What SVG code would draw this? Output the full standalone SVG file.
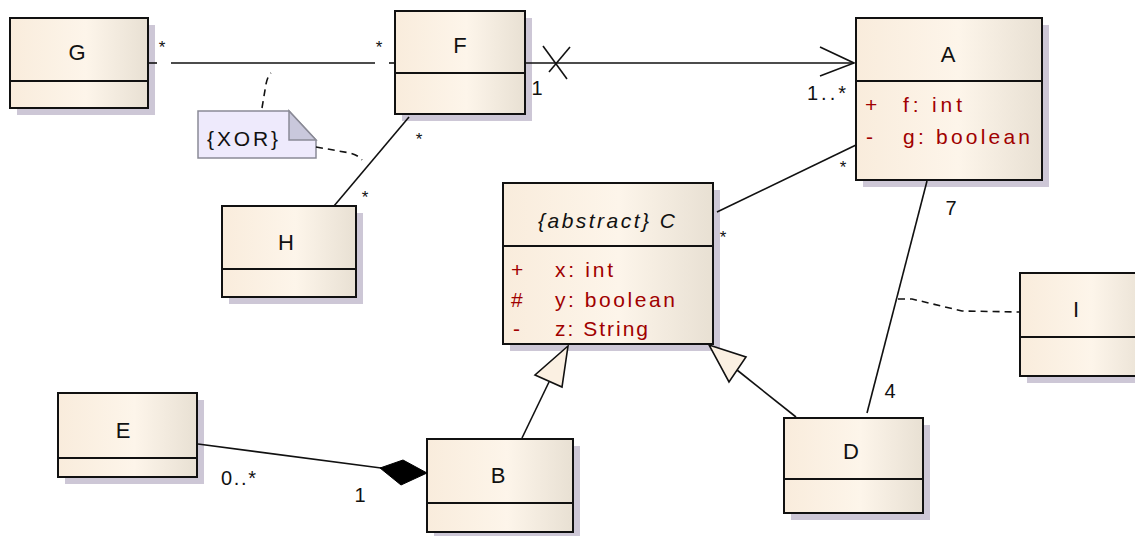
<svg xmlns="http://www.w3.org/2000/svg" width="1135" height="536" viewBox="0 0 1135 536">
<defs>
<linearGradient id="cls" x1="0" y1="0" x2="1" y2="0">
<stop offset="0" stop-color="#f9ecdc"/>
<stop offset="0.55" stop-color="#fdf5ea"/>
<stop offset="1" stop-color="#e8e0d3"/>
</linearGradient>
</defs>
<style>
.sh{fill:#cdc7d6}
.box{fill:url(#cls);stroke:#111;stroke-width:2}
.div{stroke:#111;stroke-width:2}
.t{font-family:"Liberation Sans",Arial,sans-serif;font-size:22px;fill:#111;text-anchor:middle}
.ti{font-family:"Liberation Sans",Arial,sans-serif;font-size:21px;font-style:italic;fill:#111}
.at{font-family:"Liberation Sans",Arial,sans-serif;font-size:21px;fill:#a00000}
.m{font-family:"Liberation Sans",Arial,sans-serif;font-size:20px;fill:#111}
.mc{font-family:"Liberation Sans",Arial,sans-serif;font-size:20px;fill:#111;text-anchor:middle}
.st{font-family:"Liberation Sans",Arial,sans-serif;font-size:17px;fill:#111;text-anchor:middle}
.ln{stroke:#111;stroke-width:1.6;fill:none}
.dash{stroke:#111;stroke-width:1.6;fill:none;stroke-dasharray:7 5}
.note{fill:#eeeafc;stroke:#8a8a96;stroke-width:1.5}
.fold{fill:#c9c8dc;stroke:#8a8a96;stroke-width:1.5}
.tri{fill:#fbf0e2;stroke:#111;stroke-width:1.6}
</style>

<g id="note-xor">
  <polygon class="note" points="198,111 289,111 316,140 316,158 198,158"/>
  <polygon class="fold" points="289,111 289,140 316,140"/>
  <text class="m" x="207" y="146" textLength="71" lengthAdjust="spacing" style="font-size:21px">{XOR}</text>
</g>

<g id="G">
  <rect class="sh" x="17" y="25" width="138" height="90"/>
  <rect class="box" x="10" y="18" width="138" height="90"/>
  <line class="div" x1="10" y1="81" x2="148" y2="81"/>
  <text class="t" x="77" y="60">G</text>
</g>

<g id="F">
  <rect class="sh" x="402" y="18" width="130" height="103"/>
  <rect class="box" x="395" y="11" width="130" height="103"/>
  <line class="div" x1="395" y1="73" x2="525" y2="73"/>
  <text class="t" x="460" y="53">F</text>
</g>

<g id="A">
  <rect class="sh" x="863" y="25" width="186" height="162"/>
  <rect class="box" x="856" y="18" width="186" height="162"/>
  <line class="div" x1="856" y1="81" x2="1042" y2="81"/>
  <text class="t" x="948" y="62">A</text>
  <text class="at" x="865" y="112">+</text>
  <text class="at" x="903" y="112" textLength="59" lengthAdjust="spacing">f: int</text>
  <text class="at" x="866" y="144">-</text>
  <text class="at" x="903" y="144" textLength="127" lengthAdjust="spacing">g: boolean</text>
</g>

<g id="C">
  <rect class="sh" x="510" y="190" width="210" height="161"/>
  <rect class="box" x="503" y="183" width="210" height="161"/>
  <line class="div" x1="503" y1="246" x2="713" y2="246"/>
  <text class="ti" x="538" y="228" textLength="137" lengthAdjust="spacing">{abstract} C</text>
  <text class="at" x="511" y="277">+</text>
  <text class="at" x="511" y="307">#</text>
  <text class="at" x="513" y="336">-</text>
  <text class="at" x="555" y="277" textLength="58" lengthAdjust="spacing">x: int</text>
  <text class="at" x="555" y="307" textLength="120" lengthAdjust="spacing">y: boolean</text>
  <text class="at" x="555" y="336" textLength="93" lengthAdjust="spacing">z: String</text>
</g>

<g id="H">
  <rect class="sh" x="229" y="213" width="134" height="91"/>
  <rect class="box" x="222" y="206" width="134" height="91"/>
  <line class="div" x1="222" y1="269" x2="356" y2="269"/>
  <text class="t" x="286" y="250">H</text>
</g>

<g id="I">
  <rect class="sh" x="1027" y="280" width="130" height="103"/>
  <rect class="box" x="1020" y="273" width="130" height="103"/>
  <line class="div" x1="1020" y1="337" x2="1150" y2="337"/>
  <text class="t" x="1076" y="317">I</text>
</g>

<g id="E">
  <rect class="sh" x="65" y="400" width="139" height="84"/>
  <rect class="box" x="58" y="393" width="139" height="84"/>
  <line class="div" x1="58" y1="458" x2="197" y2="458"/>
  <text class="t" x="123" y="438">E</text>
</g>

<g id="B">
  <rect class="sh" x="434" y="446" width="146" height="93"/>
  <rect class="box" x="427" y="439" width="146" height="93"/>
  <line class="div" x1="427" y1="503" x2="573" y2="503"/>
  <text class="t" x="498" y="483">B</text>
</g>

<g id="D">
  <rect class="sh" x="791" y="425" width="139" height="95"/>
  <rect class="box" x="784" y="418" width="139" height="95"/>
  <line class="div" x1="784" y1="479" x2="923" y2="479"/>
  <text class="t" x="851" y="459">D</text>
</g>

<g id="connectors">
  <line class="ln" x1="149" y1="63" x2="157" y2="63"/>
  <line class="ln" x1="171" y1="63" x2="375" y2="63"/>
  <line class="ln" x1="389" y1="63" x2="395" y2="63"/>
  <text class="st" x="162" y="53">*</text>
  <text class="st" x="379" y="53">*</text>
  <line class="ln" x1="526" y1="63" x2="854" y2="63"/>
  <polyline class="ln" points="820,47 854,63 820,76"/>
  <line class="ln" x1="543" y1="46" x2="567" y2="79"/>
  <line class="ln" x1="570" y1="47" x2="549" y2="72"/>
  <text class="mc" x="537" y="95">1</text>
  <text class="m" x="807" y="100" textLength="39" lengthAdjust="spacing">1..*</text>
  <line class="ln" x1="409" y1="117" x2="334" y2="206"/>
  <text class="st" x="419" y="145">*</text>
  <text class="st" x="365" y="203">*</text>
  <path class="dash" d="M262,108 L266,84 Q268,75 271,73"/>
  <path class="dash" d="M316,147 L350,153 Q358,155 362,160"/>
  <line class="ln" x1="856" y1="145" x2="717" y2="212"/>
  <text class="st" x="843" y="173">*</text>
  <text class="st" x="723" y="243">*</text>
  <line class="ln" x1="927" y1="181" x2="867" y2="413"/>
  <text class="mc" x="951" y="215">7</text>
  <text class="mc" x="890" y="398">4</text>
  <polyline class="dash" points="898,299 912,299 962,311 1020,312"/>
  <line class="ln" x1="198" y1="444" x2="381" y2="468"/>
  <polygon points="380,468 403,460 427,473 401,485" fill="#000" stroke="#000" stroke-width="1"/>
  <text class="m" x="221" y="485" textLength="35" lengthAdjust="spacing">0..*</text>
  <text class="mc" x="360" y="502">1</text>
  <line class="ln" x1="522" y1="438" x2="549" y2="382"/>
  <polygon class="tri" points="568,346 535,375 562,387"/>
  <line class="ln" x1="796" y1="417" x2="737" y2="370"/>
  <polygon class="tri" points="709,345 746,357 729,382"/>
</g>
</svg>
